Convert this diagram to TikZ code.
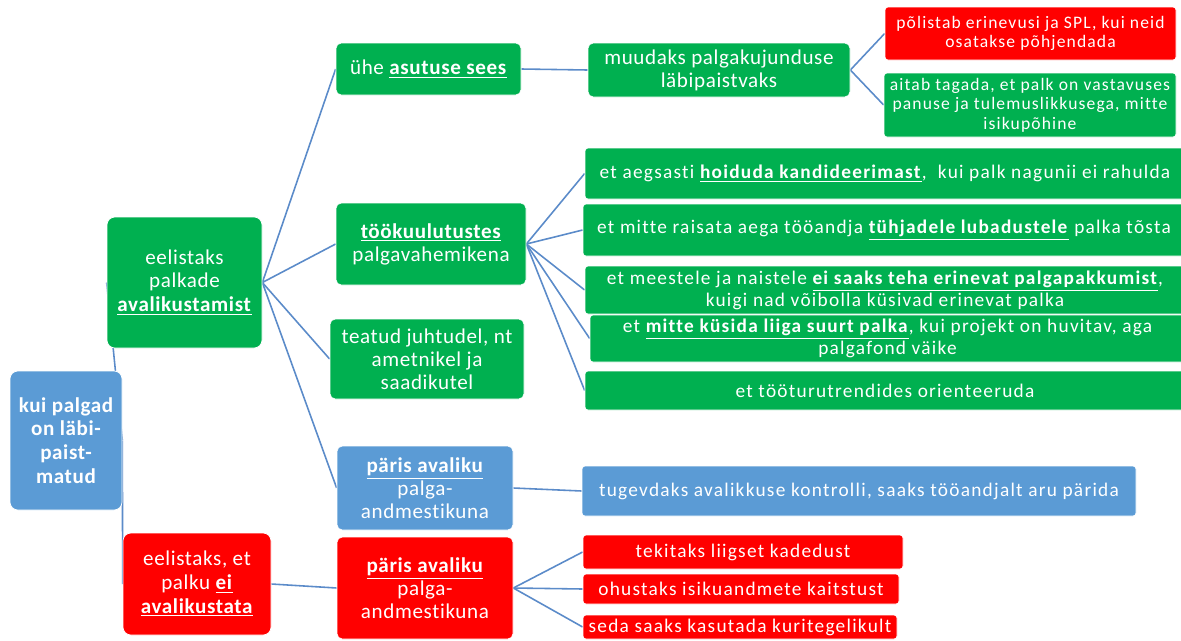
\documentclass[tikz,border=0pt]{standalone}
\usepackage{fontspec}
\setmainfont{Carlito}
\newfontfamily\spreadfont[LetterSpace=3, Ligatures=NoCommon]{Carlito}
\newfontfamily\widefont[LetterSpace=6.5, Ligatures=NoCommon]{Carlito}
\usetikzlibrary{backgrounds}

\definecolor{boxgreen}{HTML}{00B050}
\definecolor{boxred}{HTML}{FF0000}
\definecolor{boxblue}{HTML}{5B9BD5}
\definecolor{linkblue}{HTML}{5B8BC9}

\tikzset{
  box/.style={draw=white, line width=0.4pt, text=white, align=center, inner sep=0pt, rounded corners=1.7pt},
  wh/.style 2 args={minimum width=#1*0.02cm, minimum height=#2*0.02cm},
  grbox/.style={box, fill=boxgreen},
  rdbox/.style={box, fill=boxred},
  blbox/.style={box, fill=boxblue},
  big/.style={font=\spreadfont\fontsize{12}{13.5}\selectfont, rounded corners=4.5pt},
  mid/.style={font=\spreadfont\fontsize{12}{13}\selectfont, rounded corners=3pt},
  small/.style={font=\widefont\fontsize{11}{10.5}\selectfont},
  tiny/.style={font=\widefont\fontsize{10}{11}\selectfont},
  link/.style={draw=linkblue, line width=0.9pt},
}

\begin{document}
\begin{tikzpicture}[x=0.02cm, y=-0.02cm]
    \useasboundingbox (0,0) rectangle (1181,640);

    \node[blbox, big, wh={112}{139}, font=\spreadfont\fontsize{12}{13.5}\selectfont\bfseries] (root) at (66,440.5) {kui palgad\\on läbi-\\paist-\\matud};

    \node[grbox, big, wh={155}{131}] (pro) at (184.5,282.5) {eelistaks\\palkade\\\underline{\textbf{avalikustamist}}};
    \node[rdbox, big, wh={148}{102}] (contra) at (197,584) {eelistaks, et\\palku \underline{\textbf{ei}}\\\underline{\textbf{avalikustata}}};

    \node[grbox, mid, wh={185}{52}] (inside) at (428.5,69) {ühe \underline{\textbf{asutuse sees}}};
    \node[grbox, mid, wh={190}{82}] (ads) at (431,244) {\underline{\textbf{töökuulutustes}}\\palgavahemikena};
    \node[grbox, mid, wh={194}{80}] (cases) at (427,359) {teatud juhtudel, nt\\ametnikel ja\\saadikutel};
    \node[blbox, mid, wh={176}{84}] (pubpro) at (425,488) {\underline{\textbf{päris avaliku}}\\palga-\\andmestikuna};
    \node[rdbox, mid, wh={176}{102}] (pubcon) at (425,588) {\underline{\textbf{päris avaliku}}\\palga-\\andmestikuna};

    \node[grbox, mid, wh={262}{54}] (clear) at (719,70) {muudaks palgakujunduse\\läbipaistvaks};
    \node[rdbox, tiny, wh={291}{53}] (keeps) at (1030.5,33.5) {põlistab erinevusi ja SPL, kui neid\\osatakse põhjendada};
    \node[grbox, tiny, wh={292}{64}] (fair) at (1030,105) {aitab tagada, et palk on vastavuses\\panuse ja tulemuslikkusega, mitte\\isikupõhine};

    \node[grbox, small, wh={600}{51}] (avoid) at (885,173.5) {et aegsasti \underline{\textbf{hoiduda kandideerimast}},\ \ kui palk nagunii ei rahulda};
    \node[grbox, small, wh={602}{52}] (waste) at (884,230) {et mitte raisata aega tööandja \underline{\textbf{tühjadele lubadustele}} palka tõsta};
    \node[grbox, small, wh={600}{48}] (equal) at (885,290) {et meestele ja naistele \underline{\textbf{ei saaks teha erinevat palgapakkumist}},\\kuigi nad võibolla küsivad erinevat palka};
    \node[grbox, small, wh={595}{47}] (ask) at (887.5,338.5) {et \underline{\textbf{mitte küsida liiga suurt palka}}, kui projekt on huvitav, aga\\palgafond väike};
    \node[grbox, small, wh={600}{39}] (trend) at (885,390.5) {et tööturutrendides orienteeruda};

    \node[blbox, small, wh={554}{50}] (control) at (859,491) {tugevdaks avalikkuse kontrolli, saaks tööandjalt aru pärida};
    \node[rdbox, small, wh={320}{34}] (envy) at (743,552) {tekitaks liigset kadedust};
    \node[rdbox, small, wh={316}{30}] (privacy) at (741,589) {ohustaks isikuandmete kaitstust};
    \node[rdbox, small, wh={314}{24}] (crime) at (740,627) {seda saaks kasutada kuritegelikult};

    \begin{scope}[on background layer]
        \draw[link] (root.east) -- (pro.west);
        \draw[link] (root.east) -- (contra.west);
        \foreach \n in {inside,ads,cases,pubpro}
            \draw[link] (pro.east) -- (\n.west);
        \draw[link] (contra.east) -- (pubcon.west);
        \draw[link] (inside.east) -- (clear.west);
        \draw[link] (clear.east) -- (keeps.west);
        \draw[link] (clear.east) -- (fair.west);
        \foreach \n in {avoid,waste,equal,ask,trend}
            \draw[link] (ads.east) -- (\n.west);
        \draw[link] (pubpro.east) -- (control.west);
        \foreach \n in {envy,privacy,crime}
            \draw[link] (pubcon.east) -- (\n.west);
    \end{scope}
\end{tikzpicture}
\end{document}
